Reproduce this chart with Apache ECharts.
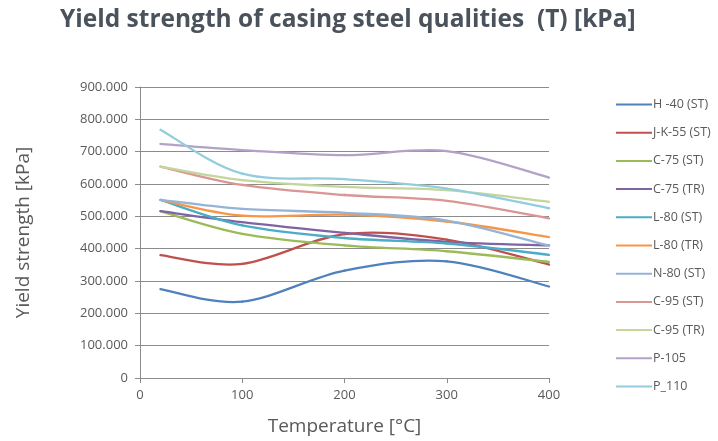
<!DOCTYPE html>
<html>
<head>
<meta charset="utf-8">
<script src="https://cdn.jsdelivr.net/npm/echarts@6/dist/echarts.min.js"></script>
<style>
  html, body { margin: 0; padding: 0; background: #fff; }
  #chart { width: 718px; height: 441px; }
</style>
</head>
<body>
<div id="chart"></div>
<script>
// Temperatures [°C] at which yield strength was tabulated
const temperatures = [20, 100, 200, 300, 400];

// Yield strength [kPa] per casing steel quality
const h40st   = [275000, 236000, 332000, 361000, 283000];
const jk55st  = [380000, 353000, 445000, 428000, 351000];
const c75st   = [516000, 446000, 410000, 392000, 359000];
const c75tr   = [516000, 482000, 449000, 421000, 410000];
const l80st   = [551000, 472000, 433000, 416000, 381000];
const l80tr   = [551000, 502000, 505000, 484000, 436000];
const n80st   = [551000, 523000, 511000, 487000, 409000];
const c95st   = [654000, 597000, 566000, 548000, 494000];
const c95tr   = [654000, 612000, 591000, 581000, 545000];
const p105    = [724000, 705000, 689000, 702000, 620000];
const p110    = [768000, 632000, 615000, 586000, 525000];

const seriesNames = ['H -40 (ST)', 'J-K-55 (ST)', 'C-75 (ST)', 'C-75 (TR)', 'L-80 (ST)',
  'L-80 (TR)', 'N-80 (ST)', 'C-95 (ST)', 'C-95 (TR)', 'P-105', 'P_110'];
const seriesValues = [h40st, jk55st, c75st, c75tr, l80st, l80tr, n80st, c95st, c95tr, p105, p110];
const seriesColors = ['#4F81BD', '#C0504D', '#9BBB59', '#8064A2', '#4BACC6', '#F79646',
  '#95B3D7', '#D99694', '#C3D69B', '#B3A2C7', '#93CDDD'];

// Thousands separated by dots, e.g. 900000 -> "900.000"
function dotThousands(v) {
  return String(Math.round(v)).replace(/\B(?=(\d{3})+(?!\d))/g, '.');
}

// Smoothed line: each segment is a cubic Bezier whose control points follow the
// neighbouring points (Catmull-Rom style), computed in pixel space from the axes.
function smoothSegment(values, color) {
  return function (params, api) {
    const i = params.dataIndex;
    const n = temperatures.length;
    if (i >= n - 1) return null;
    const pt = (j) => {
      const k = Math.max(0, Math.min(n - 1, j));
      return api.coord([temperatures[k], values[k]]);
    };
    const p0 = pt(i - 1), p1 = pt(i), p2 = pt(i + 1), p3 = pt(i + 2);
    return {
      type: 'bezierCurve',
      shape: {
        x1: p1[0], y1: p1[1],
        x2: p2[0], y2: p2[1],
        cpx1: p1[0] + (p2[0] - p0[0]) / 6, cpy1: p1[1] + (p2[1] - p0[1]) / 6,
        cpx2: p2[0] - (p3[0] - p1[0]) / 6, cpy2: p2[1] - (p3[1] - p1[1]) / 6
      },
      style: { stroke: color, lineWidth: 2.3, fill: null, lineCap: 'round' }
    };
  };
}

const textColor = '#595959';
const lineGray = '#8C8C8C';

const chart = echarts.init(document.getElementById('chart'), null, { renderer: 'canvas' });

chart.setOption({
  animation: false,
  backgroundColor: '#ffffff',
  title: {
    text: 'Yield strength of casing steel qualities  (T) [kPa]',
    left: 55,
    top: 3,
    textStyle: {
      fontFamily: 'Open Sans',
      fontWeight: 'bold',
      fontSize: 24.5,
      color: '#4A525C'
    }
  },
  legend: {
    orient: 'vertical',
    left: 611,
    top: 93,
    itemGap: 15.2,
    itemWidth: 36,
    itemHeight: 16,
    icon: 'path://M0,7 L36,7 L36,9 L0,9 Z',
    textStyle: { fontFamily: 'Open Sans', fontSize: 12.5, color: textColor, padding: [0, 0, 0, -4] },
    data: seriesNames
  },
  grid: { left: 140, right: 169, top: 87, bottom: 61, containLabel: false },
  xAxis: {
    type: 'value',
    min: 0,
    max: 400,
    interval: 100,
    name: 'Temperature [°C]',
    nameLocation: 'middle',
    nameGap: 39,
    nameTextStyle: { fontFamily: 'Open Sans', fontSize: 19, color: textColor },
    axisLine: { show: true, lineStyle: { color: lineGray, width: 1 } },
    axisTick: { show: true, inside: false, length: 5, lineStyle: { color: lineGray } },
    axisLabel: { fontFamily: 'Open Sans', fontSize: 13, color: textColor, margin: 11 },
    splitLine: { show: false }
  },
  yAxis: {
    type: 'value',
    min: 0,
    max: 900000,
    interval: 100000,
    name: 'Yield strength [kPa]',
    nameLocation: 'middle',
    nameGap: 107,
    nameRotate: 90,
    nameTextStyle: { fontFamily: 'Open Sans', fontSize: 19, color: textColor },
    axisLine: { show: true, lineStyle: { color: lineGray, width: 1 } },
    axisTick: { show: true, inside: false, length: 5, lineStyle: { color: lineGray } },
    axisLabel: {
      fontFamily: 'Open Sans', fontSize: 13, color: textColor, margin: 12,
      formatter: dotThousands
    },
    splitLine: { show: true, lineStyle: { color: lineGray, width: 1 } }
  },
  series: seriesNames.map((name, i) => ({
    name: name,
    type: 'custom',
    itemStyle: { color: seriesColors[i] },
    encode: { x: 0, y: 1 },
    renderItem: smoothSegment(seriesValues[i], seriesColors[i]),
    data: temperatures.map((t, j) => [t, seriesValues[i][j]])
  }))
});
</script>
</body>
</html>
